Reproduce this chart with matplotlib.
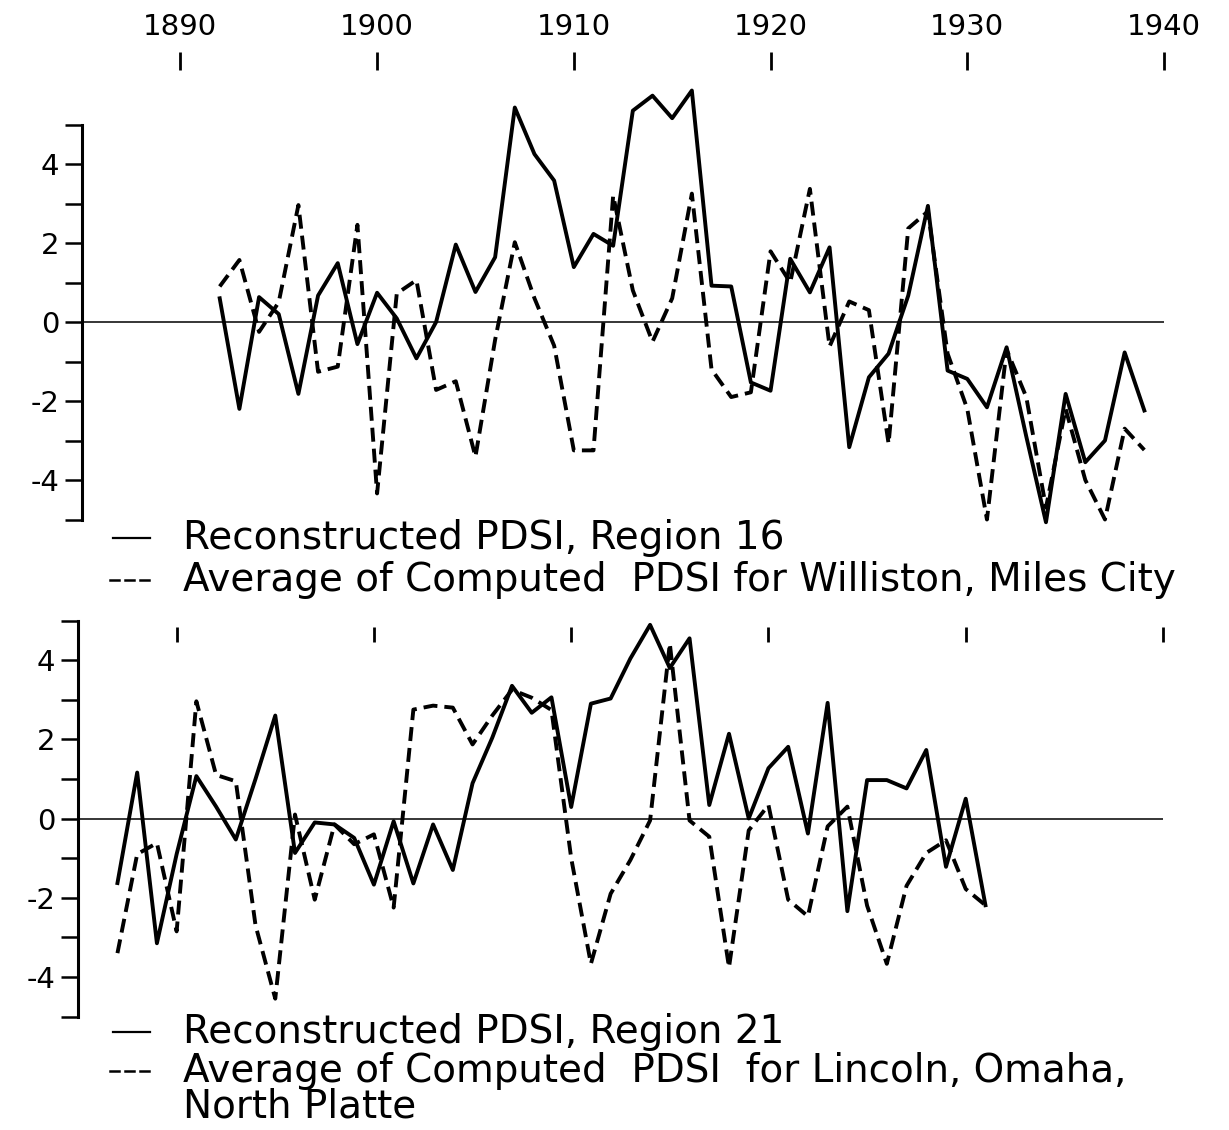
import matplotlib.pyplot as plt
import numpy as np
from matplotlib.lines import Line2D
from matplotlib.ticker import MultipleLocator

W, H = 1229, 1130

# Region 16 (upper panel)
years_16 = np.arange(1892, 1940)
recon_16 = [0.6, -2.2, 0.63, 0.2, -1.82, 0.67, 1.49, -0.56, 0.74, 0.09,
            -0.92, 0.0, 1.96, 0.76, 1.64, 5.43, 4.25, 3.58, 1.39, 2.23,
            1.93, 5.35, 5.73, 5.16, 5.86, 0.92, 0.9, -1.53, -1.74, 1.6,
            0.75, 1.89, -3.17, -1.4, -0.8, 0.67, 2.94, -1.23, -1.44, -2.16,
            -0.64, -2.9, -5.07, -1.82, -3.55, -3.0, -0.77, -2.24]
computed_16 = [0.9, 1.57, -0.25, 0.5, 2.96, -1.26, -1.13, 2.46, -4.34, 0.72,
               1.06, -1.72, -1.5, -3.41, -0.45, 2.02, 0.6, -0.6, -3.25, -3.25,
               3.2, 0.8, -0.5, 0.6, 3.25, -1.2, -1.9, -1.78, 1.79, 1.0,
               3.37, -0.62, 0.52, 0.3, -3.08, 2.37, 2.8, -0.8, -2.2, -5.0,
               -0.7, -1.9, -4.7, -2.2, -4.0, -5.0, -2.7, -3.24]

# Region 21 (lower panel)
years_21 = np.arange(1887, 1932)
recon_21 = [-1.63, 1.16, -3.15, -0.9, 1.07, 0.3, -0.53, 1.0, 2.6, -0.87,
            -0.1, -0.15, -0.49, -1.67, -0.07, -1.64, -0.15, -1.3, 0.89, 2.04,
            3.35, 2.67, 3.06, 0.29, 2.9, 3.03, 4.04, 4.89, 3.8, 4.55,
            0.34, 2.14, 0.0, 1.27, 1.81, -0.38, 2.92, -2.34, 0.97, 0.97,
            0.76, 1.73, -1.22, 0.5, -2.19]
computed_21 = [-3.4, -0.9, -0.62, -2.85, 2.96, 1.1, 0.94, -2.7, -4.55, 0.1,
               -2.05, -0.15, -0.65, -0.4, -2.25, 2.75, 2.85, 2.8, 1.87, 2.6,
               3.25, 3.05, 2.74, -1.0, -3.67, -1.9, -1.05, -0.05, 4.42, -0.05,
               -0.46, -3.76, -0.3, 0.34, -2.05, -2.47, -0.2, 0.3, -2.2, -3.67,
               -1.7, -0.87, -0.55, -1.78, -2.19]

decades = [1890, 1900, 1910, 1920, 1930, 1940]
FONT = "DejaVu Sans"
DASH = (0, (3.6, 1.8))
KEY_SIZE = 28


def px(x, y):
    """Pixel position -> figure fraction."""
    return x / W, 1 - y / H


def style_panel(ax, top_labels):
    ax.set_xlim(1885, 1940)
    ax.set_ylim(-5, 5)
    for side in ("right", "bottom"):
        ax.spines[side].set_visible(False)
    ax.spines["left"].set_linewidth(2.2)
    ax.axhline(0, color="black", lw=1.1, zorder=1)

    ax.yaxis.set_major_locator(MultipleLocator(2))
    ax.yaxis.set_minor_locator(MultipleLocator(1))
    ax.set_yticks([-4, -2, 0, 2, 4])
    ax.set_yticklabels(["-4", "-2", "0", "2", "4"])
    ax.tick_params(axis="y", which="both", direction="out", length=12.5,
                   width=1.8, pad=4, labelsize=21)

    ax.set_xticks(decades)
    ax.xaxis.set_ticks_position("top")
    ax.spines["top"].set_color("none")
    if top_labels:
        ax.spines["top"].set_position(("outward", 39))
        ax.xaxis.set_label_position("top")
        ax.tick_params(axis="x", direction="out", length=13, width=2.0,
                       pad=8, labelsize=21, labeltop=True, labelbottom=False)
    else:
        ax.spines["top"].set_position(("outward", -5))
        ax.tick_params(axis="x", direction="in", length=11, width=2.0,
                       labeltop=False, labelbottom=False)


def key_row(fig, y, dashed, text):
    if dashed:
        for x0 in (110, 125, 140):
            fig.add_artist(Line2D(*zip(px(x0, y), px(x0 + 9, y)),
                                  color="black", lw=1.8))
    else:
        fig.add_artist(Line2D(*zip(px(113, y), px(150, y)),
                              color="black", lw=1.6))
    fig.text(*px(183, y), text, fontsize=KEY_SIZE, family=FONT, va="center",
             ha="left")


plt.rcParams["font.family"] = FONT
fig = plt.figure(figsize=(W / 100, H / 100), dpi=100)

ax1 = fig.add_axes([82 / W, 1 - 519.5 / H, 1082 / W, 395 / H])
style_panel(ax1, top_labels=True)
ax1.plot(years_16, recon_16, color="black", lw=2.8, clip_on=False)
ax1.plot(years_16, computed_16, color="black", lw=2.8, linestyle=DASH,
         clip_on=False)

ax2 = fig.add_axes([78 / W, 1 - 1016.5 / H, 1085 / W, 396 / H])
style_panel(ax2, top_labels=False)
ax2.plot(years_21, recon_21, color="black", lw=2.8, clip_on=False)
ax2.plot(years_21, computed_21, color="black", lw=2.8, linestyle=DASH,
         clip_on=False)

key_row(fig, 538, False, "Reconstructed PDSI, Region 16")
key_row(fig, 580, True, "Average of Computed  PDSI for Williston, Miles City")
key_row(fig, 1032, False, "Reconstructed PDSI, Region 21")
key_row(fig, 1071, True, "Average of Computed  PDSI  for Lincoln, Omaha,")
fig.text(*px(183, 1107), "North Platte", fontsize=KEY_SIZE, family=FONT,
         va="center", ha="left")

fig.savefig("out.png", dpi=100)
